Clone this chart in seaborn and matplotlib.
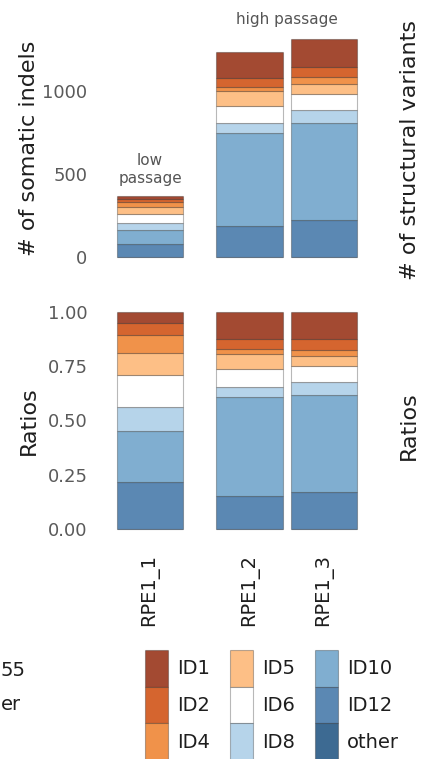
import matplotlib
matplotlib.use("Agg")
import matplotlib.pyplot as plt
from matplotlib.patches import Patch
import numpy as np
import pandas as pd
import seaborn as sns

# Samples and their positions on the shared x axis (gap separates low / high passage)
samples = ["RPE1_1", "RPE1_2", "RPE1_3"]
sample_pos = [0.0, 1.344, 2.344]

# Indel signature classes, stacked top -> bottom in this order
indel_types = ["ID1", "ID2", "ID4", "ID5", "ID6", "ID8", "ID10", "ID12", "other"]
type_colors = ["#a34a32", "#d5652f", "#f0924a", "#fdbf86", "#ffffff",
               "#b6d4ea", "#80aed0", "#5b88b3", "#3d6a92"]

# Somatic indel counts per class (same order as indel_types)
counts_rpe1_1 = [19, 20, 31, 37, 55, 41, 87, 79, 0]
counts_rpe1_2 = [156, 57, 25, 86, 101, 60, 559, 190, 0]
counts_rpe1_3 = [165, 63, 37, 60, 97, 78, 583, 225, 0]

count_ticks = [0, 500, 1000]
ratio_ticks = [0.0, 0.25, 0.5, 0.75, 1.0]

# Long-format table for seaborn
rows = []
for s, p, cnts in zip(samples, sample_pos, [counts_rpe1_1, counts_rpe1_2, counts_rpe1_3]):
    for t, c in zip(indel_types, cnts):
        rows.append({"sample": s, "pos": p, "type": t, "count": c})
df = pd.DataFrame(rows)
totals = df.groupby("sample", sort=False)["count"].sum().reindex(samples).values

sns.set_theme(style="white")
plt.rcParams["font.family"] = ["DejaVu Sans"]

W, H = 426, 759
fig = plt.figure(figsize=(W / 100, H / 100), dpi=100)

def px_box(left, top, right, bottom):
    return [left / W, 1 - bottom / H, (right - left) / W, (bottom - top) / H]

ax_top = fig.add_axes(px_box(100, 38.7, 370, 257.3))
ax_bot = fig.add_axes(px_box(100, 311.7, 370, 529.0))

palette = dict(zip(indel_types, type_colors))
edge = (0, 0, 0, 0.28)
bar_w = 0.9

for ax, mode in [(ax_top, "stack"), (ax_bot, "fill")]:
    for s, p in zip(samples, sample_pos):
        sub = df[df["sample"] == s]
        sns.histplot(data=sub, x="pos", weights="count", hue="type",
                     hue_order=indel_types, palette=palette,
                     bins=[p - bar_w / 2, p + bar_w / 2], multiple=mode,
                     alpha=1, edgecolor=edge, linewidth=0.8,
                     legend=False, ax=ax, clip_on=False)

xlim = (-0.674, 2.965)
tick_color = "#5a5a5a"
label_color = "#1e1e1e"

# Counts panel
ax_top.set_xlim(*xlim)
ax_top.set_ylim(0, 1312)
ax_top.set_yticks(count_ticks)
ax_top.set_yticklabels([str(v) for v in count_ticks])
ax_top.set_xticks([])
ax_top.set_xlabel("")
ax_top.set_ylabel("# of somatic indels", fontsize=16, color=label_color)

# Ratios panel
ax_bot.set_xlim(*xlim)
ax_bot.set_ylim(0, 1)
ax_bot.set_yticks(ratio_ticks)
ax_bot.set_yticklabels([f"{v:.2f}" for v in ratio_ticks])
ax_bot.set_xticks(sample_pos)
ax_bot.set_xticklabels(samples, rotation=90, fontsize=14, color=label_color)
ax_bot.set_xlabel("")
ax_bot.set_ylabel("Ratios", fontsize=16, color=label_color)

for ax in (ax_top, ax_bot):
    sns.despine(ax=ax, left=True, bottom=True)
    ax.tick_params(axis="y", length=0, pad=9, labelsize=13, labelcolor=tick_color)
    ax.tick_params(axis="x", length=0, pad=18)
    ax.yaxis.set_label_coords(-0.225, 0.5)
    ax.grid(False)

# Passage annotations above the bars
ax_top.annotate("low\npassage", xy=(sample_pos[0], totals[0]), xytext=(0, 7),
                textcoords="offset points", ha="center", va="bottom",
                fontsize=11, color="#555555", linespacing=1.25)
ax_top.annotate("high passage", xy=(np.mean(sample_pos[1:]), max(totals[1:])),
                xytext=(0, 9), textcoords="offset points", ha="center",
                va="bottom", fontsize=11, color="#555555", annotation_clip=False)

# Labels of the neighbouring panels
fig.text(410 / W, 1 - 150 / H, "# of structural variants", rotation=90,
         ha="center", va="center", fontsize=16, color=label_color)
fig.text(409 / W, 1 - 426 / H, "Ratios", rotation=90,
         ha="center", va="center", fontsize=16, color=label_color)
fig.text(1 / W, 1 - 670 / H, "55", ha="left", va="center",
         fontsize=14, color=label_color)
fig.text(1 / W, 1 - 705 / H, "er", ha="left", va="center",
         fontsize=14, color=label_color)

# Legend of indel classes
handles = [Patch(facecolor=c, edgecolor=edge, linewidth=0.8, label=t)
           for t, c in zip(indel_types, type_colors)]
leg = fig.legend(handles=handles, ncol=3, loc="upper left",
                 bbox_to_anchor=(145 / W, 1 - 650 / H), frameon=False,
                 fontsize=14, handlelength=1.19, handleheight=2.525,
                 labelspacing=0, handletextpad=0.46, columnspacing=1.03,
                 borderpad=0, borderaxespad=0)
for txt in leg.get_texts():
    txt.set_color(label_color)

fig.savefig("out.png", dpi=100)
